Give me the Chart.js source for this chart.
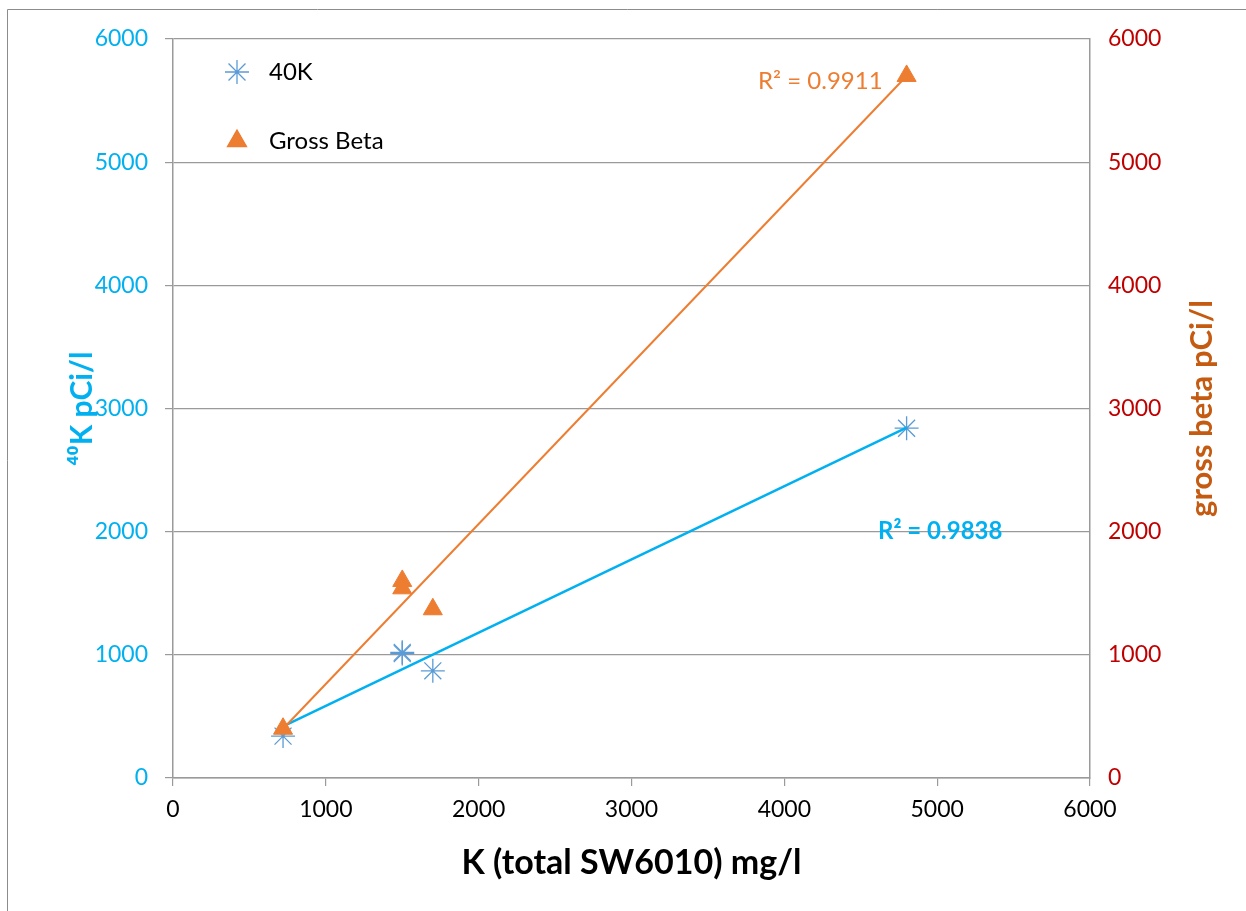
<!DOCTYPE html>
<html>
<head>
<meta charset="utf-8">
<script src="https://cdn.jsdelivr.net/npm/chart.js@4.4.1/dist/chart.umd.min.js"></script>
<style>
html,body{margin:0;padding:0;background:#fff;}
#wrap{position:relative;width:1246px;height:911px;}
canvas{display:block;}
</style>
</head>
<body>
<div id="wrap"><canvas id="c" width="1246" height="911"></canvas></div>
<script>
// ---- data ----
const kTotal = [720, 1500, 1500, 1700, 4800];           // K (total SW6010) mg/l
const k40 = [340, 1020, 1010, 870, 2840];               // 40K pCi/l
const grossBeta = [400, 1600, 1540, 1370, 5700];        // gross beta pCi/l
const trendX = [720, 4800];                             // trend line extent
const trendK40 = [420, 2845];                           // 40K linear trend endpoints
const trendBeta = [400, 5700];                          // gross beta linear trend endpoints
const yTicks = [0, 1000, 2000, 3000, 4000, 5000, 6000];
const xTicks = [0, 1000, 2000, 3000, 4000, 5000, 6000];
const seriesNames = ['40K', 'Gross Beta'];
const r2Labels = ['R² = 0.9838', 'R² = 0.9911'];
const axisTitles = { x: 'K (total SW6010) mg/l', y: '⁴⁰K pCi/l', y2: 'gross beta pCi/l' };

const FONT = 'Lato, "Open Sans", sans-serif';
const BLUE_MK = '#5B9BD5', CYAN = '#00B0F0', ORANGE = '#ED7D31', RED = '#C00000', BROWN = '#C55A11';
const GRID = '#9a9a9a';

const pts = (xs, ys) => xs.map((x, i) => ({ x: x, y: ys[i] }));
const plain = v => String(v);

const decor = {
  id: 'decor',
  beforeDraw(chart) {
    const ctx = chart.ctx;
    ctx.save();
    ctx.strokeStyle = '#8c8c8c';
    ctx.lineWidth = 1;
    ctx.beginPath();
    ctx.moveTo(7.5, 920); ctx.lineTo(7.5, 9.5); ctx.lineTo(1260, 9.5);
    ctx.stroke();
    ctx.restore();
  },
  afterDraw(chart) {
    const ctx = chart.ctx;
    const xs = chart.scales.x, y = chart.scales.y, y2 = chart.scales.y2;
    ctx.save();
    // legend
    const lx = 237;
    const items = [
      { name: seriesNames[0], style: 'star', color: BLUE_MK, y: 72, r: 12 },
      { name: seriesNames[1], style: 'triangle', color: ORANGE, y: 141, r: 11 }
    ];
    items.forEach(it => {
      ctx.strokeStyle = it.color; ctx.fillStyle = it.color; ctx.lineWidth = 1.3;
      Chart.helpers.drawPoint(ctx, { pointStyle: it.style, radius: it.r, borderWidth: 1.3, rotation: 0 }, lx, it.y);
      if (it.style === 'triangle') ctx.fill();
      ctx.fillStyle = '#000';
      ctx.font = '24px ' + FONT;
      ctx.textAlign = 'left'; ctx.textBaseline = 'middle';
      ctx.fillText(it.name, 269, it.y);
    });
    // R² labels
    ctx.font = '24px ' + FONT;
    ctx.fillStyle = ORANGE; ctx.textAlign = 'right'; ctx.textBaseline = 'middle';
    ctx.fillText(r2Labels[1], xs.getPixelForValue(4800) - 24, y2.getPixelForValue(5660));
    ctx.font = 'bold 24px ' + FONT;
    ctx.fillStyle = CYAN; ctx.textAlign = 'center';
    ctx.fillText(r2Labels[0], xs.getPixelForValue(5020), y.getPixelForValue(2000));
    // right axis title (reads bottom to top)
    ctx.translate(1202, (chart.chartArea.top + chart.chartArea.bottom) / 2);
    ctx.rotate(-Math.PI / 2);
    ctx.font = 'bold 31px ' + FONT;
    ctx.fillStyle = BROWN; ctx.textAlign = 'center'; ctx.textBaseline = 'middle';
    ctx.fillText(axisTitles.y2, 0, 0);
    ctx.restore();
  }
};

new Chart(document.getElementById('c'), {
  type: 'scatter',
  data: {
    datasets: [
      { label: seriesNames[0], data: pts(kTotal, k40), yAxisID: 'y', pointStyle: 'star', pointRadius: 12, pointHoverRadius: 12,
        borderColor: BLUE_MK, backgroundColor: BLUE_MK, pointBorderWidth: 1.3, order: 3 },
      { label: 'trend 40K', type: 'line', data: pts(trendX, trendK40), yAxisID: 'y', borderColor: CYAN, borderWidth: 2.5,
        pointRadius: 0, fill: false, order: 2 },
      { label: 'trend beta', type: 'line', data: pts(trendX, trendBeta), yAxisID: 'y2', borderColor: ORANGE, borderWidth: 2,
        pointRadius: 0, fill: false, order: 1 },
      { label: seriesNames[1], data: pts(kTotal, grossBeta), yAxisID: 'y2', pointStyle: 'triangle', pointRadius: 11, pointHoverRadius: 11,
        borderColor: ORANGE, backgroundColor: ORANGE, pointBorderWidth: 1, order: 0 }
    ]
  },
  options: {
    responsive: false,
    animation: false,
    layout: { padding: { top: 39, right: 0, left: 0, bottom: 0 } },
    plugins: { legend: { display: false }, tooltip: { enabled: false } },
    scales: {
      x: {
        type: 'linear', min: 0, max: 6000,
        afterBuildTicks: s => { s.ticks = xTicks.map(v => ({ value: v })); },
        afterFit: s => { s.height = 133; },
        grid: { drawOnChartArea: false, drawTicks: true, tickLength: 8, color: GRID, lineWidth: 1.2 },
        border: { display: true, color: GRID, width: 1.5 },
        ticks: { color: '#000', font: { family: FONT, size: 23 }, padding: 10, maxRotation: 0, callback: plain },
        title: { display: true, text: axisTitles.x, color: '#000', font: { family: FONT, size: 34, weight: 'bold' },
                 padding: { top: 0, bottom: 28 } }
      },
      y: {
        type: 'linear', position: 'left', min: 0, max: 6000,
        afterBuildTicks: s => { s.ticks = yTicks.map(v => ({ value: v })); },
        afterFit: s => { s.width = 173; },
        grid: { drawOnChartArea: true, drawTicks: true, tickLength: 8, color: GRID, lineWidth: 1.2 },
        border: { display: true, color: GRID, width: 1.5 },
        ticks: { color: CYAN, font: { family: FONT, size: 23 }, padding: 17, callback: plain },
        title: { display: true, text: axisTitles.y, color: CYAN, font: { family: FONT, size: 30, weight: 'bold' },
                 padding: { top: 64, bottom: 0 } }
      },
      y2: {
        type: 'linear', position: 'right', min: 0, max: 6000,
        afterBuildTicks: s => { s.ticks = yTicks.map(v => ({ value: v })); },
        afterFit: s => { s.width = 156; },
        grid: { drawOnChartArea: false, drawTicks: false },
        border: { display: true, color: GRID, width: 1.5 },
        ticks: { color: RED, font: { family: FONT, size: 23 }, padding: 18, callback: plain }
      }
    }
  },
  plugins: [decor]
});
</script>
</body>
</html>
